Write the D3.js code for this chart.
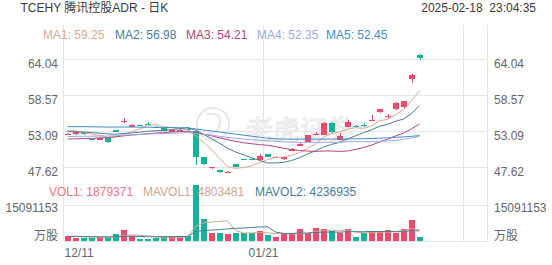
<!DOCTYPE html>
<html>
<head>
<meta charset="utf-8">
<script src="https://cdn.jsdelivr.net/npm/d3@7"></script>
<style>
  html, body { margin: 0; padding: 0; background: #fff; }
  svg { display: block; font-family: "Liberation Sans", Arial, "Noto Sans CJK SC", sans-serif; }
</style>
</head>
<body>
<div id="chart"></div>
<script>
const dates = [
  "12/11", "12/12", "12/13", "12/16", "12/17", "12/18", "12/19", "12/20", "12/23", "12/24",
  "12/26", "12/27", "12/30", "12/31", "01/02", "01/03", "01/06", "01/07", "01/08", "01/10",
  "01/13", "01/14", "01/15", "01/16", "01/17", "01/21", "01/22", "01/23", "01/24", "01/27",
  "01/28", "01/29", "01/30", "01/31", "02/03", "02/04", "02/05", "02/06", "02/07", "02/10",
  "02/11", "02/12", "02/13", "02/14", "02/18"
];

const open = [
  52.62, 52.68, 52.85, 51.98, 51.78, 52.03, 53.30, 54.60, 53.80, 54.08,
  54.25, 53.79, 53.64, 53.05, 53.15, 53.45, 53.10, 49.15, 47.45, 47.20,
  46.85, 48.08, 48.90, 48.92, 48.73, 49.60, 49.15, 48.85, 50.15, 50.90,
  51.50, 52.60, 52.60, 54.35, 51.80, 53.80, 53.95, 54.00, 54.78, 56.00,
  55.30, 56.45, 56.85, 61.10, 64.75
];
const high = [
  52.80, 53.18, 52.95, 52.05, 52.20, 52.10, 53.35, 55.10, 54.15, 54.12,
  54.45, 53.85, 53.70, 53.30, 53.50, 53.60, 53.30, 49.20, 47.70, 47.25,
  47.00, 48.15, 48.95, 48.98, 49.60, 49.70, 49.35, 49.20, 50.50, 51.25,
  52.60, 52.95, 54.50, 54.50, 52.80, 54.80, 54.00, 54.30, 55.55, 56.50,
  55.65, 57.50, 57.75, 61.85, 64.80
];
const low = [
  52.50, 52.53, 52.60, 51.80, 51.70, 51.30, 52.95, 54.35, 53.75, 53.98,
  54.00, 53.60, 53.10, 52.95, 53.05, 53.15, 47.96, 48.00, 47.35, 46.80,
  46.80, 47.65, 48.75, 48.80, 48.65, 49.15, 49.10, 48.80, 50.05, 50.80,
  51.40, 52.50, 52.50, 52.80, 51.70, 53.70, 53.85, 53.80, 54.78, 55.90,
  54.95, 56.30, 56.45, 60.40, 63.95
];
const close = [
  52.70, 53.03, 52.70, 51.90, 52.12, 51.42, 53.00, 54.68, 54.05, 54.02,
  54.18, 53.64, 53.18, 53.25, 53.35, 53.25, 49.15, 48.15, 47.60, 46.87,
  46.92, 47.71, 48.82, 48.84, 49.40, 49.20, 49.25, 49.15, 50.35, 51.15,
  52.50, 52.68, 54.40, 53.00, 52.40, 54.50, 53.88, 53.93, 54.85, 56.45,
  55.35, 57.45, 57.70, 61.60, 64.20
];

const ma1 = [
  53.25, 53.15, 52.90, 52.65, 52.49, 52.23, 52.23, 52.62, 53.05, 53.43,
  53.99, 54.11, 53.81, 53.65, 53.52, 53.33, 52.44, 51.43, 50.30, 49.00,
  47.74, 47.45, 47.58, 47.83, 48.34, 48.79, 49.10, 49.17, 49.47, 49.82,
  50.48, 51.17, 52.22, 52.75, 53.00, 53.40, 53.64, 53.54, 53.91, 54.72,
  54.89, 55.61, 56.36, 57.71, 59.25
];
const ma2 = [
  53.05, 53.02, 52.98, 52.90, 52.82, 52.70, 52.65, 52.75, 52.85, 52.96,
  53.11, 53.17, 53.22, 53.35, 53.48, 53.66, 53.28, 52.62, 51.98, 51.26,
  50.54, 49.94, 49.51, 49.07, 48.67, 48.27, 48.28, 48.38, 48.65, 49.08,
  49.64, 50.13, 50.69, 51.11, 51.41, 51.94, 52.40, 52.88, 53.33, 53.86,
  54.14, 54.62, 54.95, 55.81, 56.98
];
const ma3 = [
  51.90, 51.95, 52.00, 52.02, 52.08, 52.12, 52.25, 52.40, 52.52, 52.62,
  52.72, 52.82, 52.90, 52.98, 53.05, 53.10, 52.92, 52.66, 52.40, 52.11,
  51.82, 51.56, 51.36, 51.21, 51.07, 50.96, 50.78, 50.50, 50.31, 50.17,
  50.09, 50.04, 50.10, 50.09, 50.04, 50.10, 50.34, 50.63, 50.99, 51.47,
  51.89, 52.38, 52.82, 53.46, 54.21
];
const ma4 = [
  52.30, 52.32, 52.34, 52.34, 52.36, 52.36, 52.42, 52.50, 52.56, 52.62,
  52.68, 52.72, 52.76, 52.80, 52.85, 52.89, 52.78, 52.64, 52.50, 52.33,
  52.16, 52.02, 51.92, 51.82, 51.74, 51.66, 51.58, 51.50, 51.44, 51.40,
  51.38, 51.36, 51.40, 51.42, 51.42, 51.50, 51.52, 51.50, 51.52, 51.58,
  51.62, 51.72, 51.85, 52.08, 52.35
];
const ma5 = [
  53.80, 53.80, 53.80, 53.78, 53.76, 53.74, 53.74, 53.74, 53.74, 53.72,
  53.72, 53.70, 53.68, 53.66, 53.64, 53.60, 53.45, 53.30, 53.15, 52.98,
  52.82, 52.66, 52.50, 52.35, 52.20, 52.05, 51.95, 51.92, 51.90, 51.90,
  51.90, 51.90, 51.92, 51.92, 51.92, 51.94, 51.95, 51.96, 52.00, 52.05,
  52.10, 52.17, 52.24, 52.33, 52.45
];

const volume = [
  2100000, 1260000, 1260000, 1260000, 1680000, 1470000, 2930000, 4610000, 2100000, 630000,
  630000, 1260000, 1680000, 1680000, 1680000, 1890000, 23500000, 9200000, 3350000, 3350000,
  2930000, 3560000, 3350000, 3560000, 4400000, 2500000, 1550000, 3200000, 3200000, 4900000,
  3200000, 5600000, 4900000, 4300000, 3200000, 4900000, 1650000, 3200000, 4300000, 4300000,
  4600000, 3400000, 5200000, 8950000, 1879371
];
const mavol1 = [
  2000000, 2000000, 1800000, 1600000, 1510000, 1390000, 1720000, 2390000, 2560000, 2350000,
  2180000, 1850000, 1260000, 1180000, 1390000, 1640000, 6090000, 7590000, 7920000, 8260000,
  8470000, 4480000, 3310000, 3350000, 3560000, 3470000, 3070000, 3040000, 2970000, 3070000,
  3210000, 4020000, 4360000, 4580000, 4240000, 4580000, 3790000, 3450000, 3450000, 3670000,
  3610000, 3960000, 4360000, 5290000, 4803481
];
const mavol2 = [
  1900000, 1900000, 1850000, 1800000, 1800000, 1750000, 1800000, 2000000, 2000000, 1930000,
  1780000, 1780000, 1830000, 1870000, 1870000, 1910000, 3970000, 4430000, 4550000, 4820000,
  5050000, 5280000, 5450000, 5640000, 5910000, 5970000, 3780000, 3180000, 3160000, 3320000,
  3340000, 3550000, 3700000, 3780000, 3660000, 3900000, 3910000, 3910000, 4020000, 3960000,
  4100000, 3880000, 3910000, 4370000, 4236935
];

const priceTicks = [64.04, 58.57, 53.09, 47.62];
const volumeTicks = [15091153];
const volumeUnit = "万股";
const dateTicks = [0, 25];
const gridSlots = [0, 25, 50];
const totalSlots = 53;

const title = "TCEHY 腾讯控股ADR - 日K";
const stamp = "2025-02-18  23:04:35";
const maNames = ["MA1", "MA2", "MA3", "MA4", "MA5"];
const maLast = ["59.25", "56.98", "54.21", "52.35", "52.45"];
const volNames = ["VOL1", "MAVOL1", "MAVOL2"];
const volLast = ["1879371", "4803481", "4236935"];

const UP = "#f0486a";
const DOWN = "#14b49b";
const maColors = ["#dba98d", "#477d96", "#b2457f", "#9ea8e2", "#3f8ec2"];
const volColors = ["#ee7386", "#cfa58e", "#437c97"];
const GRID = "#e4e4e4";

const width = 552;
const height = 265;
const plotLeft = 63.5;
const plotRight = 487.5;
const plotTop = 25;

const svg = d3.select("#chart").append("svg")
  .attr("width", width)
  .attr("height", height);

const x = d3.scaleBand()
  .domain(d3.range(totalSlots))
  .range([plotLeft, plotRight])
  .paddingInner(0.3)
  .paddingOuter(0.15);
const cx = (i) => x(i) + x.bandwidth() / 2;
const slotStart = (i) => cx(i) - x.step() / 2;

const y = d3.scaleLinear().domain(d3.extent(priceTicks)).range([167.3, 59.3]);
const yv = d3.scaleLinear().domain([0, volumeTicks[0]]).range([241, 205]);

// grid
const grid = svg.append("g").attr("stroke", GRID).attr("shape-rendering", "crispEdges");
priceTicks.forEach((t) => {
  grid.append("line")
    .attr("x1", plotLeft).attr("x2", plotRight)
    .attr("y1", Math.round(y(t)) + 0.5).attr("y2", Math.round(y(t)) + 0.5);
});
[0, ...volumeTicks].forEach((t) => {
  grid.append("line")
    .attr("x1", plotLeft).attr("x2", plotRight)
    .attr("y1", Math.round(yv(t)) + 0.5).attr("y2", Math.round(yv(t)) + 0.5);
});
gridSlots.forEach((i) => {
  grid.append("line")
    .attr("x1", slotStart(i)).attr("x2", slotStart(i))
    .attr("y1", plotTop).attr("y2", yv(0));
});
grid.append("line")
  .attr("x1", plotRight).attr("x2", plotRight)
  .attr("y1", plotTop).attr("y2", yv(0));

// watermark
const mark = svg.append("g").attr("fill", "none").attr("stroke", "#e6e6e6");
mark.append("circle").attr("cx", 213).attr("cy", 124).attr("r", 16).attr("stroke-width", 2);
mark.append("path").attr("d", "M206,114 Q222,112 220,124 Q218,134 206,134").attr("stroke-width", 2);
mark.append("text")
  .attr("x", 246).attr("y", 140)
  .attr("font-size", 27)
  .attr("stroke-width", 1)
  .attr("fill", "#fbfbfb")
  .text("老虎证券");

// candles
const idx = d3.range(close.length);
const colorOf = (i) => (close[i] >= open[i] ? UP : DOWN);
const bodyW = 6;

const candles = svg.append("g").attr("shape-rendering", "crispEdges");
candles.selectAll("line.wick")
  .data(idx)
  .join("line")
  .attr("class", "wick")
  .attr("x1", (i) => Math.round(x(i)) + 3)
  .attr("x2", (i) => Math.round(x(i)) + 3)
  .attr("y1", (i) => y(high[i]))
  .attr("y2", (i) => y(low[i]))
  .attr("stroke", colorOf);
candles.selectAll("rect.body")
  .data(idx)
  .join("rect")
  .attr("class", "body")
  .attr("x", (i) => Math.round(x(i)))
  .attr("width", bodyW)
  .attr("y", (i) => y(Math.max(open[i], close[i])))
  .attr("height", (i) => Math.max(1, Math.abs(y(open[i]) - y(close[i]))))
  .attr("fill", colorOf);

// moving averages
const line = d3.line().x((d, i) => cx(i)).y((d) => y(d));
[ma1, ma2, ma3, ma4, ma5].forEach((series, k) => {
  svg.append("path")
    .attr("d", line(series))
    .attr("fill", "none")
    .attr("stroke", maColors[k])
    .attr("stroke-width", 1);
});

// volume
svg.append("g").attr("shape-rendering", "crispEdges")
  .selectAll("rect")
  .data(idx)
  .join("rect")
  .attr("x", (i) => Math.round(x(i)))
  .attr("width", bodyW)
  .attr("y", (i) => yv(volume[i]))
  .attr("height", (i) => yv(0) - yv(volume[i]))
  .attr("fill", colorOf);

const vline = d3.line().x((d, i) => cx(i)).y((d) => yv(d));
[mavol1, mavol2].forEach((series, k) => {
  svg.append("path")
    .attr("d", vline(series))
    .attr("fill", "none")
    .attr("stroke", volColors[k + 1])
    .attr("stroke-width", 1);
});

// texts
const txt = svg.append("g").attr("font-size", 12);

txt.append("text").attr("x", 20.5).attr("y", 12).attr("fill", "#3a3a3a").text(title);
txt.append("text").attr("x", 536).attr("y", 12).attr("text-anchor", "end")
  .attr("fill", "#3a3a3a").style("white-space", "pre").text(stamp);

const maX = [43, 115, 186, 257, 326];
maNames.forEach((name, k) => {
  txt.append("text").attr("x", maX[k]).attr("y", 38.5)
    .attr("fill", maColors[k]).text(`${name}: ${maLast[k]}`);
});

const volX = [49, 143, 255];
volNames.forEach((name, k) => {
  txt.append("text").attr("x", volX[k]).attr("y", 196)
    .attr("fill", volColors[k]).text(`${name}: ${volLast[k]}`);
});

priceTicks.forEach((t) => {
  const ty = Math.round(y(t)) + 9;
  txt.append("text").attr("x", 58).attr("y", ty).attr("text-anchor", "end")
    .attr("fill", "#666").text(t.toFixed(2));
  txt.append("text").attr("x", 494).attr("y", ty)
    .attr("fill", "#666").text(t.toFixed(2));
});
volumeTicks.forEach((t) => {
  const ty = Math.round(yv(t)) + 7;
  txt.append("text").attr("x", 58).attr("y", ty).attr("text-anchor", "end")
    .attr("fill", "#666").text(t);
  txt.append("text").attr("x", 494).attr("y", ty)
    .attr("fill", "#666").text(t);
});
txt.append("text").attr("x", 58).attr("y", yv(0) - 1).attr("text-anchor", "end")
  .attr("fill", "#666").text(volumeUnit);
txt.append("text").attr("x", 494).attr("y", yv(0) - 1)
  .attr("fill", "#666").text(volumeUnit);

dateTicks.forEach((i, k) => {
  txt.append("text")
    .attr("x", k === 0 ? slotStart(i) + 1 : slotStart(i))
    .attr("y", 257)
    .attr("text-anchor", k === 0 ? "start" : "middle")
    .attr("fill", "#666")
    .text(dates[i]);
});
</script>
</body>
</html>
